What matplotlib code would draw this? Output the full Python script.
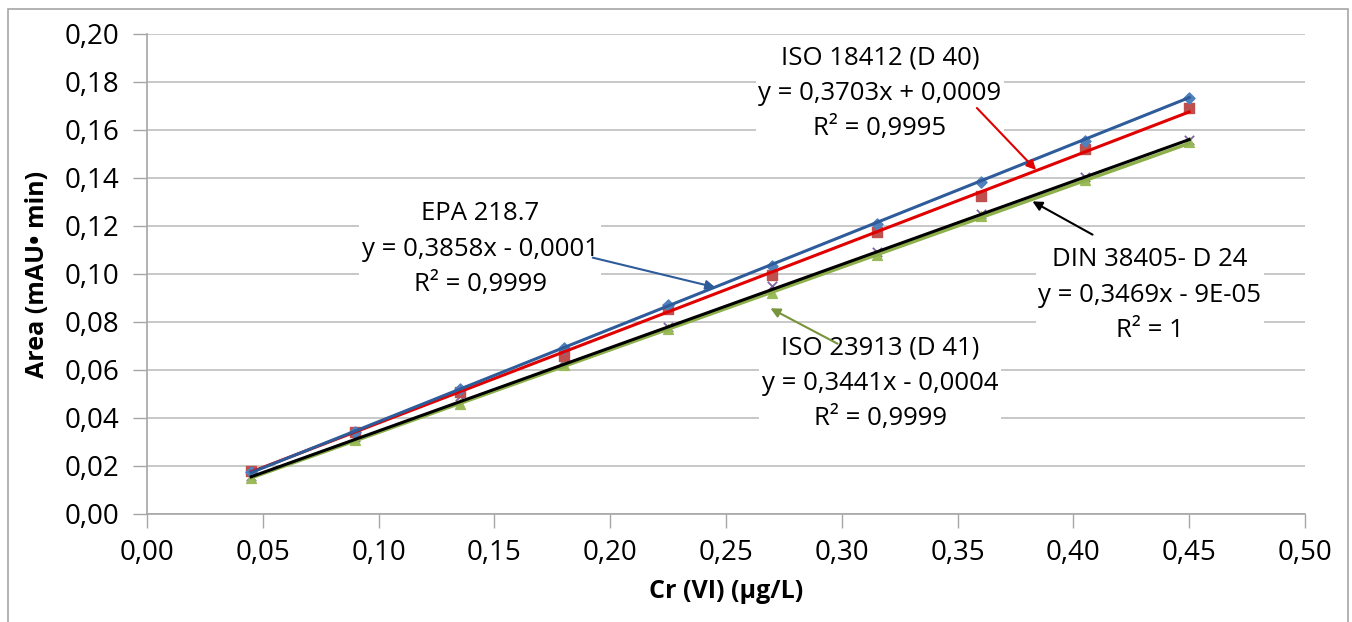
## Calibration curves for Cr(VI) by four methods, with linear trendlines.

import matplotlib.pyplot as plt
import numpy as np
from matplotlib.patches import Rectangle

plt.rcParams['font.family'] = ['Open Sans', 'DejaVu Sans']

conc = [0.045, 0.09, 0.135, 0.18, 0.225, 0.27, 0.315, 0.36, 0.405, 0.45]

epa = [0.0175, 0.034, 0.052, 0.069, 0.087, 0.1035, 0.121, 0.1385, 0.1555, 0.1735]
iso18412 = [0.018, 0.034, 0.051, 0.066, 0.0855, 0.0995, 0.1175, 0.1325, 0.152, 0.169]
din = [0.016, 0.032, 0.049, 0.064, 0.078, 0.095, 0.109, 0.125, 0.1405, 0.156]
iso23913 = [0.015, 0.031, 0.046, 0.062, 0.077, 0.092, 0.108, 0.124, 0.139, 0.155]

## trendline coefficients as printed on the chart (slope, intercept)
fit_epa = (0.3858, -0.0001)
fit_iso18412 = (0.3703, 0.0009)
fit_din = (0.3469, -0.00009)
fit_iso23913 = (0.3441, -0.0004)

xticks = np.arange(0, 0.501, 0.05)
yticks = np.arange(0, 0.201, 0.02)

fig = plt.figure(figsize=(13.52, 6.22), dpi=100)
ax = fig.add_axes([147/1352, 1-514/622, (1305-147)/1352, (514-34)/622])

## outer chart border
fig.patches.append(Rectangle((8/1352, -0.01), (1348-8)/1352, 1-9/622+0.01,
                             transform=fig.transFigure, fill=False,
                             edgecolor='#A6A6A6', linewidth=1.2))

x = np.array(conc)
xl = np.array([conc[0], conc[-1]])

# markers
ax.scatter(x, din, marker='x', s=45, color='#7F63A3', linewidths=1.3, zorder=3)
ax.scatter(x, iso23913, marker='^', s=50, color='#9BBB59', zorder=3)
ax.scatter(x, iso18412, marker='s', s=50, color='#C0504D', zorder=3)
ax.scatter(x, epa, marker='D', s=32, color='#4F81BD', zorder=3)

# trendlines
ax.plot(xl, fit_iso23913[0]*xl + fit_iso23913[1], color='#8DB04A', lw=2.5, zorder=4)
ax.plot(xl, fit_din[0]*xl + fit_din[1], color='black', lw=2.2, zorder=4)
ax.plot(xl, fit_iso18412[0]*xl + fit_iso18412[1], color='#E00000', lw=2.2, zorder=4)
ax.plot(xl, fit_epa[0]*xl + fit_epa[1], color='#2E5C9A', lw=2.2, zorder=4)

ax.set_xlim(0, 0.5)
ax.set_ylim(0, 0.2)
ax.set_xticks(xticks)
ax.set_yticks(yticks)
ax.set_xticklabels([('%.2f' % v).replace('.', ',') for v in xticks])
ax.set_yticklabels([('%.2f' % v).replace('.', ',') for v in yticks])
ax.tick_params(axis='both', labelsize=20, length=10, color='#A6A6A6', width=1)
ax.tick_params(axis='x', pad=8)
ax.tick_params(axis='y', pad=10)
ax.grid(axis='y', color='#BFBFBF', lw=1.2)
ax.set_axisbelow(True)
for s in ['top', 'right']:
    ax.spines[s].set_visible(False)
for s in ['left', 'bottom']:
    ax.spines[s].set_color('#A6A6A6')
    ax.spines[s].set_linewidth(1.2)

ax.set_xlabel('Cr (VI) (\u00b5g/L)', fontsize=18, fontweight='bold', labelpad=9)
ax.set_ylabel('Area (mAU\u2022 min)', fontsize=18, fontweight='bold', labelpad=10)

## labels with white boxes and arrows (pixel positions converted to data)
def px(xp, yp):
    return (xp - 147) / (1305 - 147) * 0.5, (514 - yp) / (514 - 34) * 0.2

labels = [
    ('ISO 18412 (D 40)\ny = 0,3703x + 0,0009\nR\u00b2 = 0,9995', (880, 93), (975, 106), (1038, 172), '#E00000'),
    ('EPA 218.7\ny = 0,3858x - 0,0001\nR\u00b2 = 0,9999', (480, 249), (590, 257), (718, 288), '#2E5C9A'),
    ('DIN 38405- D 24\ny = 0,3469x - 9E-05\nR\u00b2 = 1', (1150, 295), (1095, 236), (1030, 200), 'black'),
    ('ISO 23913 (D 41)\ny = 0,3441x - 0,0004\nR\u00b2 = 0,9999', (880, 383), (840, 345), (768, 307), '#77933C'),
]
for txt, pos, tail, head, col in labels:
    ax.text(*px(*pos), txt, ha='center', va='center', fontsize=18.5, linespacing=1.55,
            bbox=dict(facecolor='white', edgecolor='none', pad=2), zorder=5)
    ax.annotate('', xy=px(*head), xytext=px(*tail),
                arrowprops=dict(arrowstyle='-|>', color=col, lw=1.5, mutation_scale=14),
                zorder=6)

plt.savefig('out.png', dpi=100)
